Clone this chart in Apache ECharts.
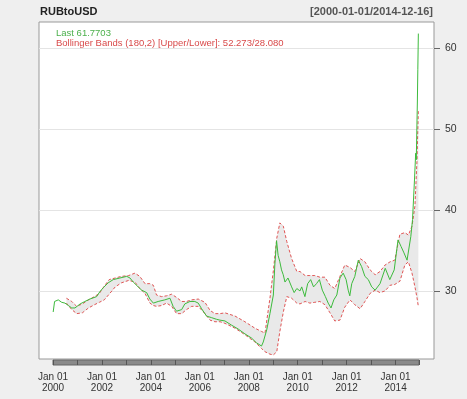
<!DOCTYPE html>
<html>
<head>
<meta charset="utf-8">
<script src="https://cdn.jsdelivr.net/npm/echarts@6/dist/echarts.min.js"></script>
<style>
html, body { margin: 0; padding: 0; background: #efefef; }
#main { width: 467px; height: 399px; }
</style>
</head>
<body>
<div id="main"></div>
<script>
var symbolName = 'RUBtoUSD';
var rangeText = '[2000-01-01/2014-12-16]';

// closing prices
var closeDates = ['2000-01-04', '2000-01-25', '2000-03-20', '2000-05-10', '2000-06-28', '2000-08-18', '2000-10-08', '2000-11-25',
    '2001-02-10', '2001-04-22', '2001-07-05', '2001-10-15', '2001-12-01', '2002-01-22', '2002-04-05', '2002-06-20',
    '2002-09-28', '2003-01-08', '2003-02-25', '2003-04-15', '2003-06-28', '2003-08-18', '2003-11-01', '2003-12-20',
    '2004-02-10', '2004-04-22', '2004-07-30', '2004-10-15', '2004-12-01', '2005-01-22', '2005-04-08', '2005-05-25',
    '2005-08-10', '2005-10-22', '2005-12-12', '2006-02-01', '2006-04-15', '2006-07-01', '2006-09-12', '2006-11-01',
    '2007-01-15', '2007-04-20', '2007-08-01', '2007-11-10', '2008-02-15', '2008-05-01', '2008-07-15', '2008-08-10',
    '2008-10-01', '2008-11-18', '2009-01-08', '2009-01-30', '2009-02-25', '2009-03-20', '2009-04-15', '2009-05-10',
    '2009-06-05', '2009-07-01', '2009-08-15', '2009-10-08', '2009-11-15', '2009-12-25', '2010-02-10', '2010-03-08',
    '2010-04-25', '2010-06-05', '2010-07-20', '2010-09-01', '2010-10-15', '2010-11-28', '2011-01-10', '2011-02-25',
    '2011-04-08', '2011-05-20', '2011-07-01', '2011-08-15', '2011-10-01', '2011-11-18', '2012-01-01', '2012-02-01',
    '2012-02-25', '2012-03-25', '2012-05-10', '2012-07-01', '2012-08-20', '2012-10-08', '2012-11-28', '2013-01-18',
    '2013-03-10', '2013-05-22', '2013-08-08', '2013-10-15', '2013-12-20', '2014-02-15', '2014-04-01', '2014-05-15',
    '2014-06-30', '2014-08-25', '2014-09-20', '2014-10-19', '2014-11-06', '2014-11-15', '2014-12-01', '2014-12-08',
    '2014-12-16'];
var closeValues = [27.4, 28.7, 28.9, 28.6, 28.5, 28.2, 27.9, 27.9,
    28.4, 28.7, 29.0, 29.3, 29.9, 30.4, 31.0, 31.4,
    31.6, 31.8, 31.6, 31.1, 30.5, 30.1, 29.8, 29.0,
    28.5, 28.7, 28.9, 29.1, 28.1, 27.5, 27.7, 28.4,
    28.7, 28.7, 28.5, 27.8, 26.9, 26.7, 26.5, 26.4,
    26.3, 25.8, 25.3, 24.7, 24.2, 23.6, 23.2, 23.7,
    25.2, 27.2, 29.5, 33.2, 36.2, 34.4, 33.6, 32.6,
    32.0, 31.1, 31.6, 30.5, 29.8, 30.3, 30.0, 30.5,
    29.3, 30.9, 31.4, 30.5, 30.9, 31.4, 30.1, 29.3,
    28.5, 27.9, 28.9, 29.5, 31.6, 32.2, 31.4, 30.1,
    29.4, 30.9, 31.8, 33.8, 33.0, 31.8, 31.4, 30.5,
    30.1, 30.9, 32.8, 31.4, 32.6, 36.3, 35.5, 34.7,
    33.8, 36.7, 38.8, 43.7, 47.0, 46.2, 53.2, 57.3,
    61.7703];

// Bollinger bands (180,2)
var bandDates = ['2000-07-20', '2000-10-08', '2000-12-20', '2001-03-15', '2001-06-15', '2001-09-12', '2001-11-25', '2002-02-06',
    '2002-04-20', '2002-07-20', '2002-10-20', '2003-02-06', '2003-05-10', '2003-07-22', '2003-10-08', '2003-12-20',
    '2004-02-10', '2004-03-28', '2004-06-12', '2004-08-25', '2004-11-10', '2005-01-22', '2005-04-08', '2005-06-20',
    '2005-09-05', '2005-12-12', '2006-03-22', '2006-06-06', '2006-08-18', '2006-11-03', '2007-01-15', '2007-06-15',
    '2007-11-10', '2008-04-08', '2008-07-15', '2008-09-05', '2008-11-18', '2009-01-08', '2009-02-28', '2009-04-15',
    '2009-06-06', '2009-07-28', '2009-10-08', '2009-12-25', '2010-02-10', '2010-04-28', '2010-07-08', '2010-09-20',
    '2010-12-05', '2011-02-18', '2011-05-05', '2011-07-15', '2011-10-01', '2011-12-12', '2012-02-28', '2012-05-10',
    '2012-07-28', '2012-10-08', '2012-12-25', '2013-03-10', '2013-05-22', '2013-08-05', '2013-10-20', '2013-12-28',
    '2014-03-15', '2014-05-28', '2014-07-20', '2014-09-12', '2014-10-26', '2014-11-25', '2014-12-16'];
var bandUpper = [29.1, 28.7, 28.1, 28.4, 28.9, 29.3, 29.7, 30.6,
    31.4, 31.6, 31.8, 31.9, 32.2, 31.8, 30.9, 30.9,
    30.7, 29.5, 29.3, 29.4, 29.6, 29.2, 28.7, 28.7,
    28.9, 29.0, 28.6, 27.6, 27.2, 27.2, 27.3, 26.9,
    26.2, 25.4, 25.0, 24.8, 29.1, 32.5, 36.5, 38.4,
    38.0, 36.1, 34.0, 32.4, 32.4, 31.9, 31.9, 31.9,
    31.7, 31.7, 30.7, 30.3, 31.8, 33.2, 32.9, 32.4,
    34.0, 33.6, 32.6, 32.0, 32.4, 33.2, 33.6, 33.8,
    37.0, 37.2, 36.9, 38.0, 40.5, 46.0, 52.273];
var bandLower = [28.5, 27.7, 27.2, 27.3, 27.9, 28.3, 28.6, 28.9,
    29.6, 30.5, 31.0, 31.3, 31.1, 30.3, 29.7, 28.5,
    28.2, 28.1, 28.2, 28.5, 28.1, 27.2, 27.2, 27.7,
    28.1, 28.1, 27.2, 26.4, 26.2, 26.2, 26.0, 25.4,
    24.6, 23.7, 22.9, 22.5, 22.2, 22.1, 22.5, 25.0,
    27.4, 29.3, 29.1, 28.5, 28.4, 28.7, 28.5, 28.6,
    28.7, 28.3, 27.3, 26.3, 26.4, 28.0, 28.9, 28.3,
    27.8, 28.7, 29.7, 30.1, 29.8, 30.0, 30.7, 30.8,
    31.2, 33.2, 33.6, 32.2, 30.5, 29.2, 28.080];

var yTicks = [30, 40, 50, 60];

var closeData = closeDates.map(function (d, i) { return [d, closeValues[i]]; });
var lowerData = bandDates.map(function (d, i) { return [d, bandLower[i]]; });
var upperData = bandDates.map(function (d, i) { return [d, bandUpper[i]]; });
var widthData = bandDates.map(function (d, i) { return [d, +(bandUpper[i] - bandLower[i]).toFixed(3)]; });

var lastClose = closeValues[closeValues.length - 1];
var lastUpper = bandUpper[bandUpper.length - 1];
var lastLower = bandLower[bandLower.length - 1];

var green = '#3dbb3d';
var red = '#e05555';
var font = 'Liberation Sans, Arial, sans-serif';

var chart = echarts.init(document.getElementById('main'));
var option = {
    backgroundColor: '#efefef',
    animation: false,
    textStyle: { fontFamily: font },
    title: [
        { text: symbolName, left: 40, top: 6, padding: 0, textStyle: { fontSize: 11, fontWeight: 'bold', color: '#222', fontFamily: font } },
        { text: rangeText, right: 34, top: 6, padding: 0, textStyle: { fontSize: 11, fontWeight: 'bold', color: '#555', fontFamily: font } },
        { text: 'Last ' + lastClose, left: 56, top: 28, padding: 0, textStyle: { fontSize: 9.5, fontWeight: 'normal', color: '#4cb04c', fontFamily: font } },
        { text: 'Bollinger Bands (180,2) [Upper/Lower]: ' + lastUpper.toFixed(3) + '/' + lastLower.toFixed(3), left: 56, top: 38, padding: 0,
          textStyle: { fontSize: 9.5, fontWeight: 'normal', color: '#d94a4a', fontFamily: font } }
    ],
    grid: [
        { left: 39, right: 33, top: 22, bottom: 40, show: true, backgroundColor: '#fff', borderColor: '#999', borderWidth: 1 },
        { left: 53, width: 366, top: 360, height: 5, show: true, backgroundColor: '#8a8a8a', borderColor: '#666', borderWidth: 1 }
    ],
    xAxis: [
        { type: 'time', gridIndex: 0, min: '1999-06-06', max: '2015-08-07', show: false },
        {
            type: 'time', gridIndex: 1, min: '2000-01-01', max: '2014-12-16',
            minInterval: 365 * 24 * 3600 * 1000, maxInterval: 366 * 24 * 3600 * 1000, splitNumber: 15,
            axisLine: { show: false },
            axisTick: { show: false },
            splitLine: { show: true, lineStyle: { color: '#555', width: 1 } },
            axisLabel: {
                show: true, margin: 7, fontSize: 10, lineHeight: 11, color: '#333', fontFamily: font,
                hideOverlap: false, showMinLabel: true, showMaxLabel: false,
                formatter: function (value) {
                    var d = new Date(value);
                    if (d.getMonth() === 0 && d.getDate() === 1 && d.getFullYear() % 2 === 0) {
                        return 'Jan 01\n' + d.getFullYear();
                    }
                    return '';
                }
            }
        }
    ],
    yAxis: [
        {
            type: 'value', gridIndex: 0, position: 'right', min: 21.6, max: 63.2, splitNumber: 4,
            axisLine: { show: false },
            axisTick: { show: true, length: 6, customValues: yTicks, lineStyle: { color: '#666' } },
            axisLabel: { customValues: yTicks, margin: 11, fontSize: 10.5, color: '#333', fontFamily: font },
            splitLine: { show: true, lineStyle: { color: '#e4e4e4' } }
        },
        { type: 'value', gridIndex: 1, min: 0, max: 1, show: false }
    ],
    series: [
        {
            name: 'Lower', type: 'line', data: lowerData, stack: 'bb', symbol: 'none', z: 3,
            lineStyle: { color: red, width: 1, type: [3, 2] }
        },
        {
            name: 'Band', type: 'line', data: widthData, stack: 'bb', symbol: 'none', z: 1,
            lineStyle: { width: 0 }, areaStyle: { color: '#e9e9e9', opacity: 1 }
        },
        {
            name: 'Upper', type: 'line', data: upperData, symbol: 'none', z: 3,
            lineStyle: { color: red, width: 1, type: [3, 2] }
        },
        {
            name: 'Close', type: 'line', data: closeData, symbol: 'none', z: 4,
            lineStyle: { color: green, width: 1 }
        }
    ]
};
chart.setOption(option);
</script>
</body>
</html>
